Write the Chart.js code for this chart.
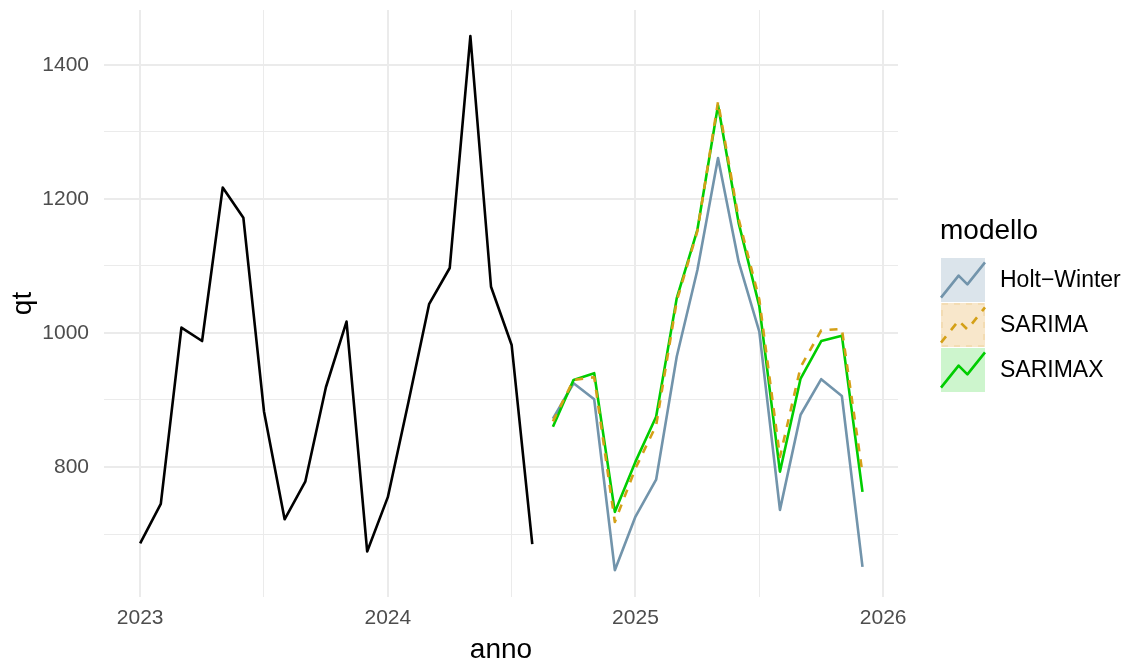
<!DOCTYPE html>
<html lang="it">
<head>
<meta charset="utf-8">
<title>qt per anno – previsioni</title>
<script src="https://cdn.jsdelivr.net/npm/chart.js@4.4.1/dist/chart.umd.min.js"></script>
<style>
  html, body { margin: 0; padding: 0; background: #ffffff; }
  canvas { display: block; }
</style>
</head>
<body>
<canvas id="grafico" width="1133" height="664"></canvas>
<script>
// Serie storica mensile (gen 2023 – ago 2024)
const mesiStorici = ['2023-01','2023-02','2023-03','2023-04','2023-05','2023-06','2023-07','2023-08','2023-09','2023-10','2023-11','2023-12',
                     '2024-01','2024-02','2024-03','2024-04','2024-05','2024-06','2024-07','2024-08'];
const qtStorico = [686, 745, 1008, 988, 1217, 1172, 883, 722, 778, 919, 1017, 674,
                   755, 897, 1043, 1097, 1443, 1069, 982, 685];

// Orizzonte di previsione (set 2024 – dic 2025)
const mesiPrevisione = ['2024-09','2024-10','2024-11','2024-12','2025-01','2025-02','2025-03','2025-04',
                        '2025-05','2025-06','2025-07','2025-08','2025-09','2025-10','2025-11','2025-12'];
const prevHoltWinter = [872, 925, 901, 646, 726, 781, 965, 1094, 1261, 1106, 1002, 736, 878, 931, 906, 651];
const prevSarima     = [868, 930, 934, 718, 798, 862, 1048, 1152, 1345, 1170, 1050, 815, 949, 1004, 1006, 790];
const prevSarimax    = [860, 930, 940, 733, 808, 875, 1052, 1154, 1340, 1164, 1040, 793, 932, 988, 996, 763];

// Etichette e tacche degli assi
const tickAnni = [2023, 2024, 2025, 2026];
const tickQt = [800, 1000, 1200, 1400];
const nomiModelli = ['Holt\u2212Winter', 'SARIMA', 'SARIMAX'];

// Stile
const FONT = '"Liberation Sans", Arial, Helvetica, sans-serif';
const coloriLinea = ['#7294ab', '#d4a017', '#00cd00'];
const coloriRiempimento = ['#dbe4eb', '#f8e7cb', '#cdf5cd'];
const GRIGIO_GRIGLIA = '#ebebeb';

// mese 'AAAA-MM' -> anno decimale
function annoDecimale(m) {
  const [a, mm] = m.split('-').map(Number);
  return a + (mm - 1) / 12;
}
function punti(mesi, valori) {
  return mesi.map((m, i) => ({ x: annoDecimale(m), y: valori[i] }));
}

// Griglia principale + secondaria (a metà tra le tacche principali)
const xTicksTutti = [];
tickAnni.forEach((a, i) => { xTicksTutti.push(a); if (i < tickAnni.length - 1) xTicksTutti.push(a + 0.5); });
const yTicksTutti = [700];
tickQt.forEach((v, i) => { yTicksTutti.push(v); if (i < tickQt.length - 1) yTicksTutti.push(v + 100); });

// Titoli degli assi e legenda disegnati sul canvas
const decorazioni = {
  id: 'decorazioni',
  afterDraw(chart) {
    const ctx = chart.ctx;
    const area = chart.chartArea;
    ctx.save();
    ctx.fillStyle = '#000000';
    ctx.textAlign = 'center';
    ctx.textBaseline = 'alphabetic';
    ctx.font = '28px ' + FONT;
    ctx.fillText('anno', (area.left + area.right) / 2, 658);
    ctx.save();
    ctx.translate(31, (area.top + area.bottom) / 2);
    ctx.rotate(-Math.PI / 2);
    ctx.fillText('qt', 0, 0);
    ctx.restore();

    // legenda
    ctx.textAlign = 'left';
    ctx.fillText('modello', 940, 239);
    const kx = 941, ky0 = 258, kw = 44, kh = 44, passo = 45;
    const fx = [0, 0.4, 0.6, 1], fy = [0.1, 0.6, 0.4, 0.9];
    nomiModelli.forEach((nome, i) => {
      const ky = ky0 + i * passo;
      ctx.fillStyle = coloriRiempimento[i];
      ctx.fillRect(kx, ky, kw, kh);
      if (i === 1) {
        ctx.save();
        ctx.strokeStyle = '#f3dcb3';
        ctx.lineWidth = 2;
        ctx.setLineDash([6, 6]);
        ctx.strokeRect(kx + 1, ky + 1, kw - 2, kh - 2);
        ctx.restore();
      }
      ctx.save();
      ctx.beginPath();
      fx.forEach((f, j) => {
        const px = kx + f * kw, py = ky + (1 - fy[j]) * kh;
        if (j === 0) ctx.moveTo(px, py); else ctx.lineTo(px, py);
      });
      ctx.strokeStyle = coloriLinea[i];
      ctx.lineWidth = 2.6;
      ctx.lineJoin = 'round';
      if (i === 1) ctx.setLineDash([8, 8]);
      ctx.stroke();
      ctx.restore();
      ctx.fillStyle = '#000000';
      ctx.font = '23px ' + FONT;
      ctx.textBaseline = 'middle';
      ctx.fillText(nome, 1000, ky + kh / 2 + 1);
    });
    ctx.restore();
  }
};

const ctx = document.getElementById('grafico').getContext('2d');
new Chart(ctx, {
  type: 'line',
  data: {
    datasets: [
      { label: 'storico', data: punti(mesiStorici, qtStorico), borderColor: '#000000', borderWidth: 2.6, order: 3 },
      { label: nomiModelli[0], data: punti(mesiPrevisione, prevHoltWinter), borderColor: coloriLinea[0], borderWidth: 2.6, order: 2 },
      { label: nomiModelli[2], data: punti(mesiPrevisione, prevSarimax), borderColor: coloriLinea[2], borderWidth: 2.6, order: 1 },
      { label: nomiModelli[1], data: punti(mesiPrevisione, prevSarima), borderColor: coloriLinea[1], borderWidth: 2.6, borderDash: [8, 8], order: 0 }
    ]
  },
  options: {
    responsive: false,
    animation: false,
    events: [],
    layout: { padding: { top: 10, right: 235, left: 0, bottom: 0 } },
    elements: {
      point: { radius: 0 },
      line: { tension: 0, fill: false, borderJoinStyle: 'round', borderCapStyle: 'butt' }
    },
    plugins: { legend: { display: false }, tooltip: { enabled: false } },
    scales: {
      x: {
        type: 'linear',
        min: 2022.854,
        max: 2026.06,
        afterBuildTicks: s => { s.ticks = xTicksTutti.map(v => ({ value: v })); },
        afterFit: s => { s.height = 67; s.paddingLeft = 0; s.paddingRight = 0; },
        border: { display: false },
        grid: {
          drawTicks: false,
          color: GRIGIO_GRIGLIA,
          lineWidth: c => (c.tick && Number.isInteger(c.tick.value) ? 2 : 1)
        },
        ticks: {
          autoSkip: false,
          maxRotation: 0,
          padding: 9,
          color: '#4d4d4d',
          font: { family: FONT, size: 21 },
          callback: v => (tickAnni.includes(v) ? String(v) : '')
        }
      },
      y: {
        type: 'linear',
        min: 606,
        max: 1482,
        afterBuildTicks: s => { s.ticks = yTicksTutti.map(v => ({ value: v })); },
        afterFit: s => { s.width = 104; s.paddingTop = 0; s.paddingBottom = 0; },
        border: { display: false },
        grid: {
          drawTicks: false,
          color: GRIGIO_GRIGLIA,
          lineWidth: c => (c.tick && c.tick.value % 200 === 0 ? 2 : 1)
        },
        ticks: {
          autoSkip: false,
          padding: 15,
          color: '#4d4d4d',
          font: { family: FONT, size: 21 },
          callback: v => (tickQt.includes(v) ? String(v) : '')
        }
      }
    }
  },
  plugins: [decorazioni]
});
</script>
</body>
</html>
